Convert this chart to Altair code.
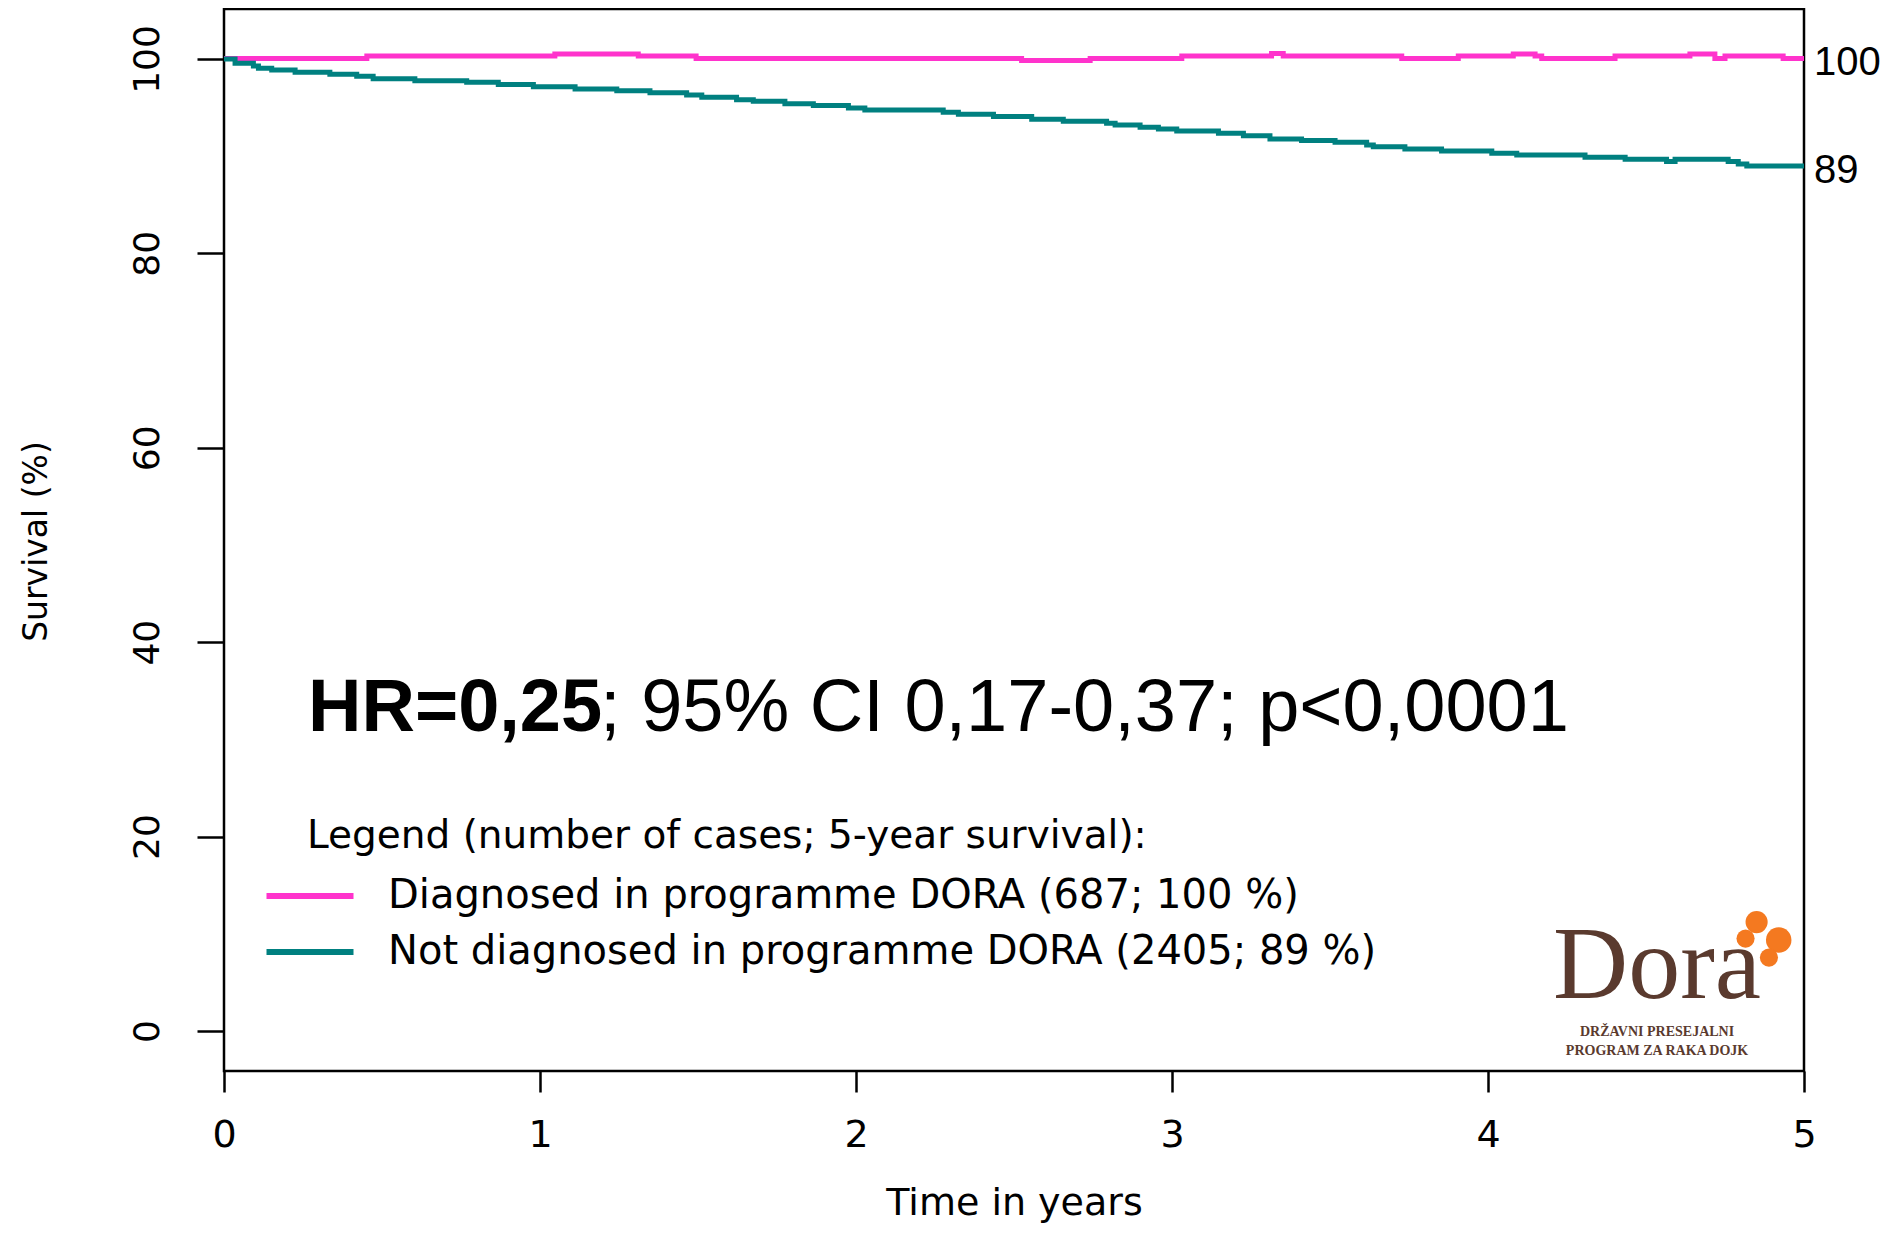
import altair as alt
import pandas as pd

# ---- data ----
groups = ["Diagnosed in programme DORA (687; 100 %)",
          "Not diagnosed in programme DORA (2405; 89 %)"]
colors = ["#FF33CC", "#008080"]

pink_t = [0.000, 0.452, 1.047, 1.311, 1.494, 2.524, 2.741, 3.031, 3.315, 3.352,
          3.727, 3.906, 4.080, 4.149, 4.170, 4.402, 4.639, 4.718, 4.750, 4.934, 5.000]
pink_s = [100.05, 100.30, 100.50, 100.30, 100.05, 99.83, 100.05, 100.30, 100.55, 100.30,
          100.05, 100.30, 100.50, 100.30, 100.05, 100.30, 100.50, 100.05, 100.30, 100.05, 100.05]

teal_t = [0.000, 0.035, 0.093, 0.109, 0.151, 0.225, 0.335, 0.420, 0.472, 0.604,
          0.768, 0.868, 0.979, 1.111, 1.243, 1.348, 1.464, 1.512, 1.622, 1.675,
          1.775, 1.865, 1.976, 2.028, 2.276, 2.324, 2.435, 2.556, 2.656, 2.793,
          2.820, 2.899, 2.957, 3.015, 3.147, 3.226, 3.310, 3.410, 3.516, 3.616,
          3.637, 3.737, 3.853, 4.012, 4.091, 4.307, 4.434, 4.565, 4.592, 4.760,
          4.792, 4.819, 5.000]
teal_s = [100.0, 99.56, 99.28, 99.04, 98.87, 98.63, 98.43, 98.22, 97.97, 97.77,
          97.60, 97.36, 97.15, 96.91, 96.74, 96.53, 96.30, 96.06, 95.81, 95.65,
          95.40, 95.20, 94.96, 94.75, 94.52, 94.31, 94.08, 93.80, 93.59, 93.38,
          93.21, 92.97, 92.80, 92.59, 92.36, 92.11, 91.77, 91.60, 91.43, 91.15,
          90.98, 90.74, 90.53, 90.30, 90.12, 89.89, 89.68, 89.44, 89.68, 89.44,
          89.20, 89.00, 89.00]

end_labels = ["100", "89"]
x_ticks = [0, 1, 2, 3, 4, 5]
y_ticks = [0, 20, 40, 60, 80, 100]

hr_bold = "HR=0,25"
hr_rest = "; 95% CI 0,17-0,37; p<0,0001"

logo_word = "Dora"
logo_lines = ["DRŽAVNI PRESEJALNI", "PROGRAM ZA RAKA DOJK"]

# ---- tables ----
df = pd.concat([
    pd.DataFrame({"t": pink_t, "s": pink_s, "group": groups[0]}),
    pd.DataFrame({"t": teal_t, "s": teal_s, "group": groups[1]}),
])
ends = pd.DataFrame({"t": [pink_t[-1], teal_t[-1]], "s": [pink_s[-1], teal_s[-1]],
                     "label": end_labels})
hr_df = pd.DataFrame({"t": [0.266, 1.19], "s": [30.86, 30.86], "label": [hr_bold, hr_rest]})
logo_txt = pd.DataFrame({"t": [4.535, 4.535, 4.535], "s": [3.40, -0.51, -2.47],
                         "label": [logo_word] + logo_lines,
                         "kind": ["word", "line", "line"]})
petals = pd.DataFrame({"t": [4.850, 4.920, 4.889, 4.815],
                       "s": [11.20, 9.35, 7.55, 9.50],
                       "size": [490, 650, 330, 330]})

xscale = alt.Scale(domain=[0, 5], nice=False, zero=False)
yscale = alt.Scale(domain=[-4.12, 105.14], nice=False, zero=False)

lines = alt.Chart(df).mark_line(interpolate="step-after", strokeWidth=5).encode(
    x=alt.X("t:Q", scale=xscale,
            axis=alt.Axis(values=x_ticks, format="d", title="Time in years", tickSize=21,
                          labelFontSize=38, labelPadding=24, labelFlush=False,
                          labelOverlap=False, titleFontSize=38, titleY=143,
                          titleBaseline="alphabetic")),
    y=alt.Y("s:Q", scale=yscale,
            axis=alt.Axis(values=y_ticks, format="d", title="Survival (%)", tickSize=27,
                          labelAngle=270, labelAlign="center",
                          labelBaseline="alphabetic", labelPadding=39,
                          labelFontSize=36, labelFlush=False, labelOverlap=False,
                          titleFontSize=33, titleAngle=270, titleX=-178, titleY=532,
                          titleAlign="center", titleBaseline="alphabetic")),
    color=alt.Color("group:N", scale=alt.Scale(domain=groups, range=colors),
                    legend=alt.Legend(
                        orient="none", legendX=83, legendY=808,
                        title="Legend (number of cases; 5-year survival):",
                        titleFont="DejaVu Sans", titleFontSize=39,
                        titleFontWeight="normal", titleColor="black",
                        titleLimit=2000, titlePadding=12,
                        labelFont="DejaVu Sans", labelFontSize=40,
                        labelColor="black", labelLimit=2000,
                        symbolType="M-1.74,0H1.74", symbolSize=2500,
                        symbolStrokeWidth=6, symbolOffset=-25, labelOffset=50,
                        rowPadding=8, padding=0)),
)

end_text = alt.Chart(ends).mark_text(align="left", baseline="middle", dx=10, dy=5,
                                     font="Liberation Sans", fontSize=40,
                                     color="black").encode(
    x=alt.X("t:Q", scale=xscale), y=alt.Y("s:Q", scale=yscale), text="label:N")

hr_b = alt.Chart(hr_df.iloc[[0]]).mark_text(align="left", baseline="alphabetic",
                                            font="Liberation Sans", fontSize=74,
                                            fontWeight="bold", color="black").encode(
    x=alt.X("t:Q", scale=xscale), y=alt.Y("s:Q", scale=yscale), text="label:N")
hr_r = alt.Chart(hr_df.iloc[[1]]).mark_text(align="left", baseline="alphabetic",
                                            font="Liberation Sans", fontSize=74,
                                            color="black").encode(
    x=alt.X("t:Q", scale=xscale), y=alt.Y("s:Q", scale=yscale), text="label:N")

logo_word_mark = alt.Chart(logo_txt[logo_txt.kind == "word"]).mark_text(
    align="center", baseline="alphabetic", font="Liberation Serif", fontSize=104,
    color="#5A3A2E").encode(
    x=alt.X("t:Q", scale=xscale), y=alt.Y("s:Q", scale=yscale), text="label:N")
logo_line_mark = alt.Chart(logo_txt[logo_txt.kind == "line"]).mark_text(
    align="center", baseline="alphabetic", font="Liberation Serif", fontSize=14,
    fontWeight="bold", color="#5A3A2E").encode(
    x=alt.X("t:Q", scale=xscale), y=alt.Y("s:Q", scale=yscale), text="label:N")
petal_mark = alt.Chart(petals).mark_point(filled=True, shape="circle", opacity=1,
                                          color="#F47920").encode(
    x=alt.X("t:Q", scale=xscale), y=alt.Y("s:Q", scale=yscale),
    size=alt.Size("size:Q", scale=None, legend=None))

chart = alt.layer(lines, end_text, hr_b, hr_r, logo_word_mark, logo_line_mark,
                  petal_mark).properties(
    width=1580, height=1062,
    autosize=alt.AutoSizeParams(type="none"),
    padding={"left": 216, "top": 1, "right": 80, "bottom": 152},
    background="white",
).configure_view(stroke="black", strokeWidth=2.5).configure_axis(
    domain=False, grid=False, tickColor="black", tickWidth=2.5,
    labelColor="black", titleColor="black", labelFont="DejaVu Sans",
    titleFont="DejaVu Sans", titleFontWeight="normal")

chart.save("out.html", embed_options={"renderer": "svg", "actions": False})
